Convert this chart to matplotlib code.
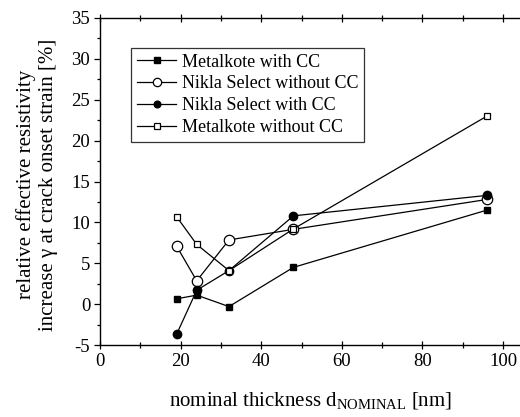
import matplotlib
matplotlib.use("Agg")
import matplotlib.pyplot as plt
from matplotlib.ticker import MultipleLocator

plt.rcParams["font.family"] = "Liberation Serif"
plt.rcParams["mathtext.fontset"] = "custom"
plt.rcParams["mathtext.rm"] = "Liberation Serif"
plt.rcParams["axes.unicode_minus"] = False

### Data
thickness = [19, 24, 32, 48, 96]
metalkote_cc = [0.65, 1.1, -0.3, 4.5, 11.5]
nikla_no_cc = [7.1, 2.85, 7.85, 9.15, 12.8]
nikla_cc = [-3.7, 1.7, 4.1, 10.8, 13.3]
metalkote_no_cc = [10.7, 7.3, 4.1, 9.2, 23.0]

fig = plt.figure(figsize=(5.2, 4.17), dpi=100)
# right spine sits just past the edge of the image
ax = fig.add_axes([100 / 520, 1 - 345 / 417, 422 / 520, 327 / 417])

ax.plot(thickness, metalkote_cc, color="black", lw=0.9, marker="s", ms=5,
        mfc="black", mec="black", label="Metalkote with CC")
ax.plot(thickness, nikla_no_cc, color="black", lw=0.9, marker="o", ms=7.5,
        mfc="white", mec="black", mew=0.9, label="Nikla Select without CC")
ax.plot(thickness, nikla_cc, color="black", lw=0.9, marker="o", ms=6,
        mfc="black", mec="black", label="Nikla Select with CC")
ax.plot(thickness, metalkote_no_cc, color="black", lw=0.9, marker="s", ms=5,
        mfc="white", mec="black", mew=0.9, label="Metalkote without CC")

ax.set_xlim(0, 104.7)
ax.set_ylim(-5, 35)
ax.xaxis.set_major_locator(MultipleLocator(20))
ax.xaxis.set_minor_locator(MultipleLocator(10))
ax.yaxis.set_major_locator(MultipleLocator(5))
ax.yaxis.set_minor_locator(MultipleLocator(2.5))
ax.tick_params(which="both", top=True, right=True, labelsize=13.5, width=0.9)
ax.tick_params(axis="x", which="both", direction="inout", pad=3)
ax.tick_params(axis="x", which="major", length=6)
ax.tick_params(axis="x", which="minor", length=4)
ax.tick_params(axis="y", which="both", direction="out", pad=3)
ax.tick_params(axis="y", which="major", length=4)
ax.tick_params(axis="y", which="minor", length=2.5)
for s in ax.spines.values():
    s.set_linewidth(1.0)

ax.set_xlabel(r"nominal thickness d$_{\mathrm{NOMINAL}}$ [nm]", fontsize=15)
ax.xaxis.set_label_coords(0.5, -0.14)
ax.set_ylabel("relative effective resistivity\nincrease \u03b3 at crack onset strain [%]",
              fontsize=15, linespacing=1.2)
ax.yaxis.set_label_coords(-0.10, 0.49)

leg = ax.legend(loc="upper left", bbox_to_anchor=(0.074, 0.908), fontsize=13,
                frameon=True, fancybox=False, edgecolor="black",
                handlelength=2.2, handletextpad=0.3, borderpad=0.3,
                labelspacing=0.27, borderaxespad=0, markerscale=0.8)
leg.get_frame().set_linewidth(0.9)

fig.savefig("out.png", dpi=100)
